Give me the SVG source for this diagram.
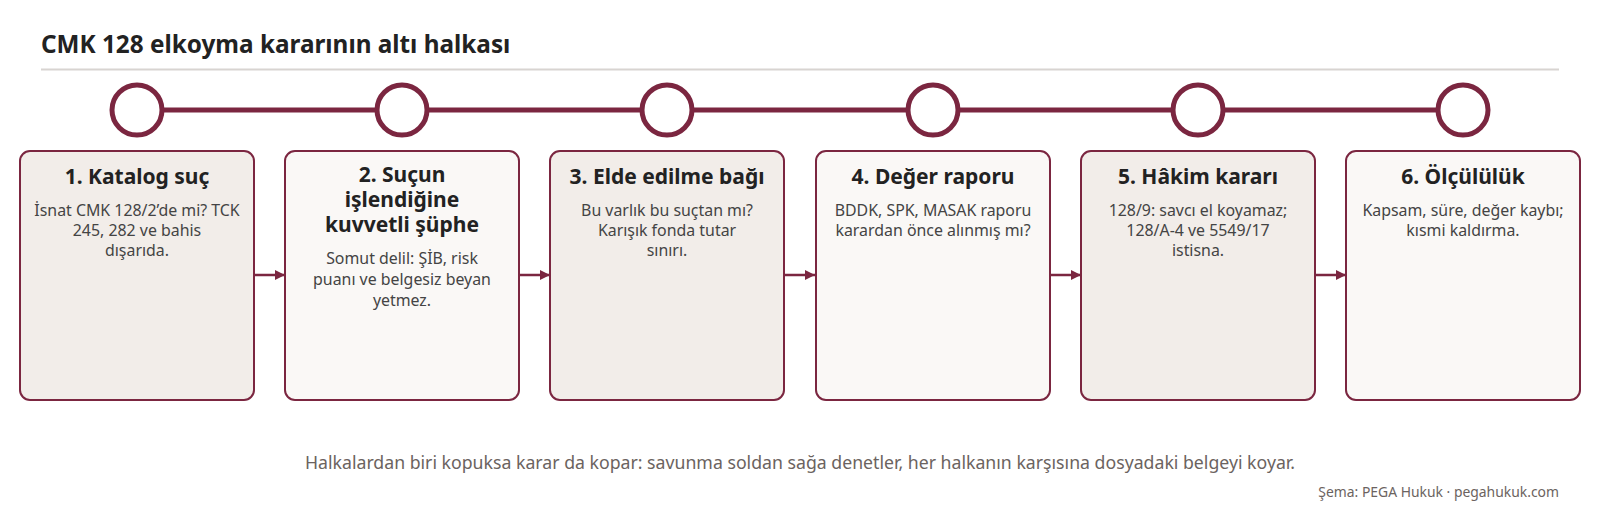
<svg xmlns="http://www.w3.org/2000/svg" width="1600" height="520" viewBox="0 0 1600 520">
<style>
.title{font-family:"Noto Sans","Open Sans",sans-serif;font-weight:700;font-size:24.3px;fill:#222}
.bt{font-family:"Noto Sans","Open Sans",sans-serif;font-weight:700;font-size:21px;fill:#222;text-anchor:middle}
.bd{font-family:"Noto Sans","Open Sans",sans-serif;font-size:15.9px;fill:#444;text-anchor:middle}
.box{stroke:#7b2640;stroke-width:2}
.odd{fill:#f2ede9}
.even{fill:#faf8f6}
.ring{fill:#fff;stroke:#7b2640;stroke-width:5}
.conn{stroke:#7b2640;stroke-width:2.5;fill:none}
.foot{font-family:"Noto Sans","Open Sans",sans-serif;font-size:17.7px;fill:#6b6360;text-anchor:middle}
.credit{font-family:"Noto Sans","Open Sans",sans-serif;font-size:13.9px;fill:#6b6360;text-anchor:end}
</style>
<defs>
<marker id="ah" viewBox="0 0 10 10" refX="10" refY="5" markerWidth="4" markerHeight="4" orient="auto" markerUnits="strokeWidth">
<path d="M0,0 L10,5 L0,10 z" fill="#7b2640"/>
</marker>
</defs>
<rect width="1600" height="520" fill="#fff"/>
<text class="title" x="41" y="53">CMK 128 elkoyma kararının altı halkası</text>
<line x1="41" y1="69.5" x2="1559" y2="69.5" stroke="#d8d4d1" stroke-width="2"/>

<g id="chain">
<line x1="137" y1="110" x2="1463" y2="110" stroke="#7b2640" stroke-width="5"/>
<circle class="ring" cx="137" cy="110" r="25"/>
<circle class="ring" cx="402" cy="110" r="25"/>
<circle class="ring" cx="667" cy="110" r="25"/>
<circle class="ring" cx="933" cy="110" r="25"/>
<circle class="ring" cx="1198" cy="110" r="25"/>
<circle class="ring" cx="1463" cy="110" r="25"/>
</g>

<g id="connectors">
<line class="conn" x1="255" y1="275" x2="285" y2="275" marker-end="url(#ah)"/>
<line class="conn" x1="520" y1="275" x2="550" y2="275" marker-end="url(#ah)"/>
<line class="conn" x1="785" y1="275" x2="815" y2="275" marker-end="url(#ah)"/>
<line class="conn" x1="1051" y1="275" x2="1081" y2="275" marker-end="url(#ah)"/>
<line class="conn" x1="1316" y1="275" x2="1346" y2="275" marker-end="url(#ah)"/>
</g>

<g id="node1">
<rect class="box odd" x="20" y="151" width="234" height="249" rx="10"/>
<text class="bt" x="137" y="184">1. Katalog suç</text>
<text class="bd" x="137" y="216">İsnat CMK 128/2’de mi? TCK</text>
<text class="bd" x="137" y="236">245, 282 ve bahis</text>
<text class="bd" x="137" y="256">dışarıda.</text>
</g>

<g id="node2">
<rect class="box even" x="285" y="151" width="234" height="249" rx="10"/>
<text class="bt" x="402" y="182">2. Suçun</text>
<text class="bt" x="402" y="207">işlendiğine</text>
<text class="bt" x="402" y="232">kuvvetli şüphe</text>
<text class="bd" x="402" y="264">Somut delil: ŞİB, risk</text>
<text class="bd" x="402" y="285">puanı ve belgesiz beyan</text>
<text class="bd" x="402" y="306">yetmez.</text>
</g>

<g id="node3">
<rect class="box odd" x="550" y="151" width="234" height="249" rx="10"/>
<text class="bt" x="667" y="184">3. Elde edilme bağı</text>
<text class="bd" x="667" y="216">Bu varlık bu suçtan mı?</text>
<text class="bd" x="667" y="236">Karışık fonda tutar</text>
<text class="bd" x="667" y="256">sınırı.</text>
</g>

<g id="node4">
<rect class="box even" x="816" y="151" width="234" height="249" rx="10"/>
<text class="bt" x="933" y="184">4. Değer raporu</text>
<text class="bd" x="933" y="216">BDDK, SPK, MASAK raporu</text>
<text class="bd" x="933" y="236">karardan önce alınmış mı?</text>
</g>

<g id="node5">
<rect class="box odd" x="1081" y="151" width="234" height="249" rx="10"/>
<text class="bt" x="1198" y="184">5. Hâkim kararı</text>
<text class="bd" x="1198" y="216">128/9: savcı el koyamaz;</text>
<text class="bd" x="1198" y="236">128/A-4 ve 5549/17</text>
<text class="bd" x="1198" y="256">istisna.</text>
</g>

<g id="node6">
<rect class="box even" x="1346" y="151" width="234" height="249" rx="10"/>
<text class="bt" x="1463" y="184">6. Ölçülülük</text>
<text class="bd" x="1463" y="216">Kapsam, süre, değer kaybı;</text>
<text class="bd" x="1463" y="236">kısmi kaldırma.</text>
</g>

<text class="foot" x="800" y="469">Halkalardan biri kopuksa karar da kopar: savunma soldan sağa denetler, her halkanın karşısına dosyadaki belgeyi koyar.</text>
<text class="credit" x="1559" y="497">Şema: PEGA Hukuk · pegahukuk.com</text>
</svg>
